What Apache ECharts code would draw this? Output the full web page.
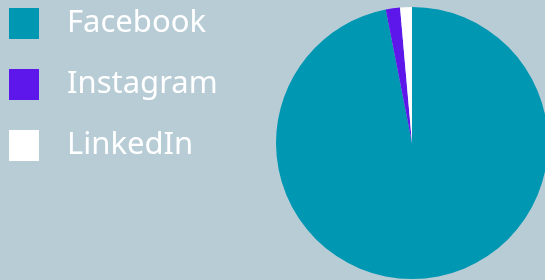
<!DOCTYPE html>
<html>
<head>
<meta charset="utf-8">
<script src="https://cdn.jsdelivr.net/npm/echarts@6/dist/echarts.min.js"></script>
<style>
  html, body { margin: 0; padding: 0; background: #b8ccd6; }
  #chart { width: 545px; height: 280px; }
</style>
</head>
<body>
<div id="chart"></div>
<script>
const names = ["Facebook", "Instagram", "LinkedIn"];
const values = [96.9, 1.7, 1.4];
const colors = ["#0097b2", "#5e17eb", "#ffffff"];

const chart = echarts.init(document.getElementById("chart"));
const option = {
  backgroundColor: "#b8ccd6",
  animation: false,
  legend: {
    orient: "vertical",
    left: 9,
    top: 8,
    padding: 0,
    itemWidth: 30,
    itemHeight: 31,
    itemGap: 30,
    icon: "rect",
    textStyle: {
      color: "#ffffff",
      fontSize: 31,
      fontFamily: "Noto Sans",
      fontWeight: 400,
      padding: [0, 0, 0, 23]
    },
    data: names
  },
  series: [
    {
      type: "pie",
      center: [412, 143],
      radius: [0, 136],
      startAngle: 90,
      clockwise: true,
      label: { show: false },
      labelLine: { show: false },
      emphasis: { disabled: true },
      itemStyle: { borderWidth: 0 },
      data: names.map((n, i) => ({
        name: n,
        value: values[i],
        itemStyle: { color: colors[i] }
      }))
    }
  ]
};
option && chart.setOption(option);
</script>
</body>
</html>
